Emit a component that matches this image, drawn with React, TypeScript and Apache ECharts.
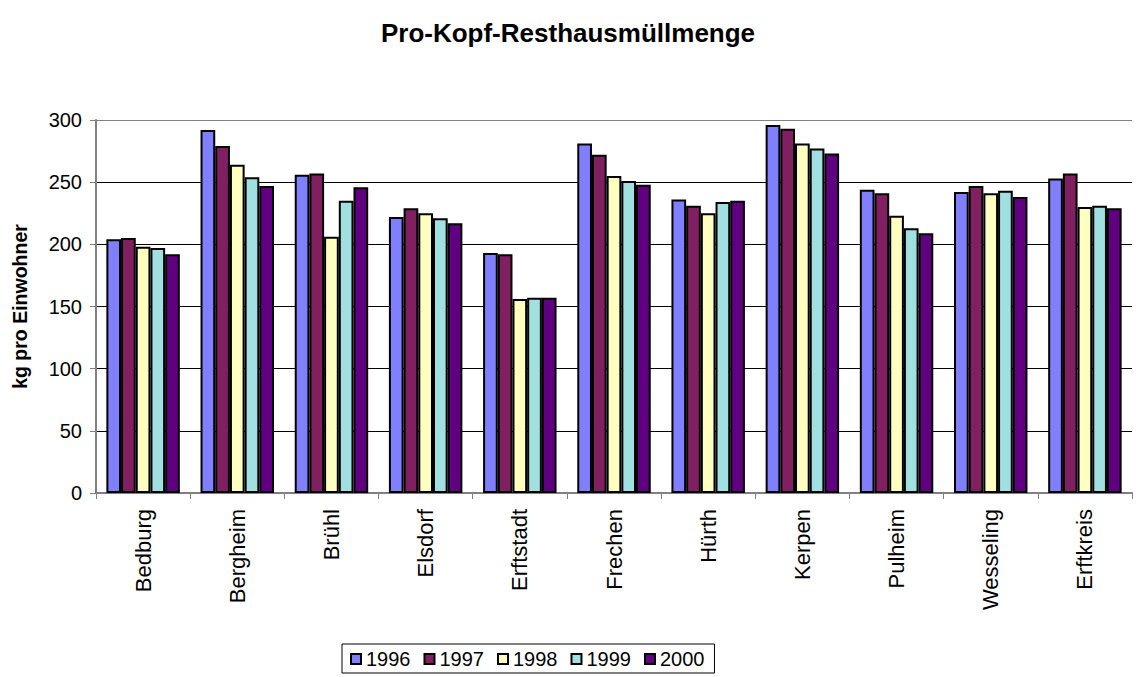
import React, { useEffect, useRef } from "react";
import * as echarts from "echarts";

const categories = ["Bedburg", "Bergheim", "Brühl", "Elsdorf", "Erftstadt", "Frechen", "Hürth", "Kerpen", "Pulheim", "Wesseling", "Erftkreis"];
const years = ["1996", "1997", "1998", "1999", "2000"];
const v1996 = [204, 292, 256, 222, 193, 281, 236, 296, 244, 242, 253];
const v1997 = [205, 279, 257, 229, 192, 272, 231, 293, 241, 247, 257];
const v1998 = [198, 264, 206, 225, 156, 255, 225, 281, 223, 241, 230];
const v1999 = [197, 254, 235, 221, 157, 251, 234, 277, 213, 243, 231];
const v2000 = [192, 247, 246, 217, 157, 248, 235, 273, 209, 238, 229];
const seriesValues = [v1996, v1997, v1998, v1999, v2000];
const colors = ["#8080FF", "#802060", "#FFFFC0", "#A0E0E0", "#600080"];
const yTicks = [0, 300, 50];

export default function App() {
  const ref = useRef<HTMLDivElement>(null);
  useEffect(() => {
    document.body.style.margin = "0";
    const chart = echarts.init(ref.current!, null, { renderer: "svg" });
    const font = "Liberation Sans, Arial, sans-serif";
    chart.setOption({
      animation: false,
      backgroundColor: "#fff",
      title: {
        text: "Pro-Kopf-Resthausmüllmenge",
        left: "center",
        top: 15,
        textStyle: { fontFamily: font, fontSize: 26, fontWeight: "bold", color: "#000" },
      },
      legend: {
        top: 644,
        left: 342,
        itemWidth: 10,
        itemHeight: 10,
        itemGap: 13,
        icon: "rect",
        borderColor: "#000",
        borderWidth: 1,
        borderRadius: 0,
        padding: [5, 10, 4, 8],
        textStyle: { fontFamily: font, fontSize: 20, color: "#000" },
        itemStyle: { borderColor: "#000", borderWidth: 2 },
        data: years,
      },
      grid: { left: 96, top: 120, right: 4, bottom: 184, containLabel: false },
      xAxis: {
        type: "category",
        data: categories,
        axisLine: { show: true, lineStyle: { color: "#808080", width: 2 } },
        axisTick: { show: true, length: 6, lineStyle: { color: "#808080" }, alignWithLabel: false },
        axisLabel: { rotate: 90, fontFamily: font, fontSize: 22, color: "#000", margin: 16, interval: 0 },
      },
      yAxis: {
        type: "value",
        min: yTicks[0],
        max: yTicks[1],
        interval: yTicks[2],
        name: "kg pro Einwohner",
        nameLocation: "middle",
        nameGap: 66,
        nameRotate: 90,
        nameTextStyle: { fontFamily: font, fontSize: 19.5, fontWeight: "bold", color: "#000" },
        axisLine: { show: true, lineStyle: { color: "#808080", width: 2 } },
        axisTick: { show: true, length: 6, lineStyle: { color: "#808080" } },
        axisLabel: { fontFamily: font, fontSize: 20, color: "#000", margin: 14 },
        splitLine: {
          show: true,
          lineStyle: { color: ["#808080", "#000", "#000", "#000", "#000", "#000", "#808080"], width: 1 },
        },
      },
      series: years.map((y, i) => ({
        name: y,
        type: "bar",
        data: seriesValues[i],
        barGap: "0%",
        barCategoryGap: "22%",
        itemStyle: { color: colors[i], borderColor: "#000", borderWidth: 2 },
      })),
    });
    return () => chart.dispose();
  }, []);
  return <div ref={ref} style={{ width: 1136, height: 677 }} />;
}
